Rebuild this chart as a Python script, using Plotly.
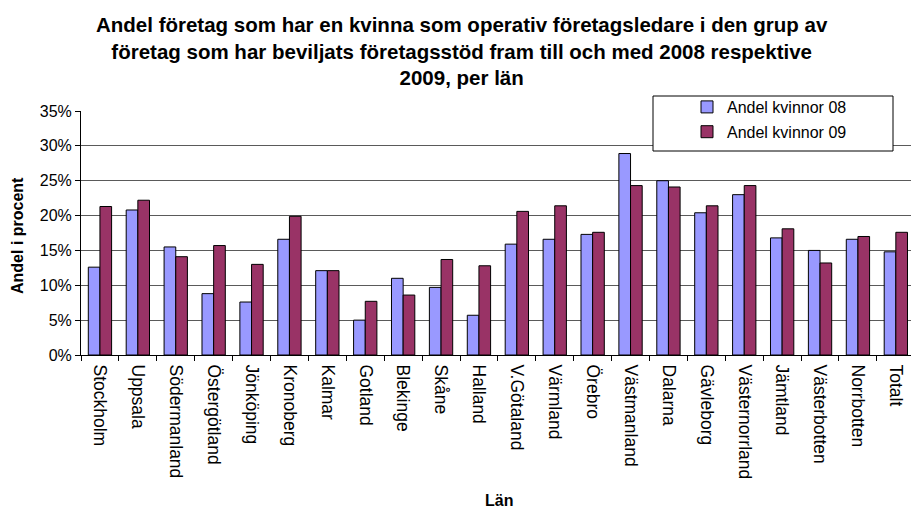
import plotly.graph_objects as go

categories = ["Stockholm", "Uppsala", "Södermanland", "Östergötland", "Jönköping",
              "Kronoberg", "Kalmar", "Gotland", "Blekinge", "Skåne", "Halland",
              "V.Götaland", "Värmland", "Örebro", "Västmanland", "Dalarna",
              "Gävleborg", "Västernorrland", "Jämtland", "Västerbotten",
              "Norrbotten", "Totalt"]
andel_08 = [12.6, 20.8, 15.5, 8.8, 7.6, 16.6, 12.1, 5.0, 11.0, 9.7, 5.7,
            15.9, 16.6, 17.3, 28.9, 25.0, 20.4, 23.0, 16.8, 15.0, 16.6, 14.8]
andel_09 = [21.3, 22.2, 14.1, 15.7, 13.0, 19.9, 12.1, 7.7, 8.6, 13.7, 12.8,
            20.6, 21.4, 17.6, 24.3, 24.1, 21.4, 24.3, 18.1, 13.2, 17.0, 17.6]
series_names = ["Andel kvinnor 08", "Andel kvinnor 09"]
y_ticks = [0, 5, 10, 15, 20, 25, 30, 35]
y_tick_labels = [f"{v}%" for v in y_ticks]

FONT = "Liberation Sans, Arial, sans-serif"

# plot area in pixels
L, R, T, B = 81, 911, 111, 355
PW, PH = R - L, B - T


def px(x):
    return (x - L) / PW


def py(y):
    return (B - y) / PH


fig = go.Figure()
fig.add_trace(go.Bar(x=categories, y=andel_08, name=series_names[0],
                     marker=dict(color="#9999FF", line=dict(color="#000000", width=1)),
                     legendgroup="a"))
fig.add_trace(go.Bar(x=categories, y=andel_09, name=series_names[1],
                     marker=dict(color="#993366", line=dict(color="#000000", width=1)),
                     legendgroup="b"))

fig.update_layout(
    width=911, height=510,
    margin=dict(l=L, r=911 - R, t=T, b=510 - B),
    paper_bgcolor="white", plot_bgcolor="white",
    font=dict(family=FONT, color="black", size=16),
    barmode="group", bargap=0.385, bargroupgap=0,
    showlegend=True,
    legend=dict(x=px(687), xanchor="left", y=py(90), yanchor="top",
                bgcolor="rgba(0,0,0,0)", borderwidth=0,
                font=dict(size=16, family=FONT), tracegroupgap=1),
    xaxis=dict(range=[-0.5, 21.4], showline=True, linecolor="black", linewidth=1,
               ticks="outside", tickson="boundaries", ticklen=5, tickcolor="black",
               tickangle=90, showgrid=False, tickfont=dict(size=17.5),
               ticklabelstandoff=5, fixedrange=True),
    yaxis=dict(range=[0, 35], tickvals=y_ticks, ticktext=y_tick_labels,
               showline=True, linecolor="black", linewidth=1,
               ticks="outside", ticklen=5, tickcolor="black",
               showgrid=True, gridcolor="#5a5a5a", gridwidth=1,
               tickfont=dict(size=16), zeroline=False, fixedrange=True),
    shapes=[dict(type="rect", xref="paper", yref="paper",
                 x0=px(653), x1=px(893), y0=py(151), y1=py(96),
                 fillcolor="white", line=dict(color="black", width=1), layer="above")],
    annotations=[
        dict(text="<b>Andel företag som har en kvinna som operativ företagsledare i den grup av<br>"
                  "företag som har beviljats företagsstöd fram till och med 2008 respektive<br>"
                  "2009, per län</b>",
             xref="paper", yref="paper", x=px(462), y=py(11),
             xanchor="center", yanchor="top", showarrow=False,
             font=dict(size=20.5, family=FONT, color="black")),
        dict(text="<b>Andel i procent</b>", xref="paper", yref="paper",
             x=px(17), y=py(236), textangle=-90,
             showarrow=False, xanchor="center", yanchor="middle",
             font=dict(size=16, family=FONT)),
        dict(text="<b>Län</b>", xref="paper", yref="paper",
             x=px(499), y=py(500),
             showarrow=False, xanchor="center", yanchor="middle",
             font=dict(size=16, family=FONT)),
    ],
)

fig.write_html("out.html", config={"displayModeBar": False},
               post_script="document.body.style.margin='0';document.body.style.overflow='hidden';")
